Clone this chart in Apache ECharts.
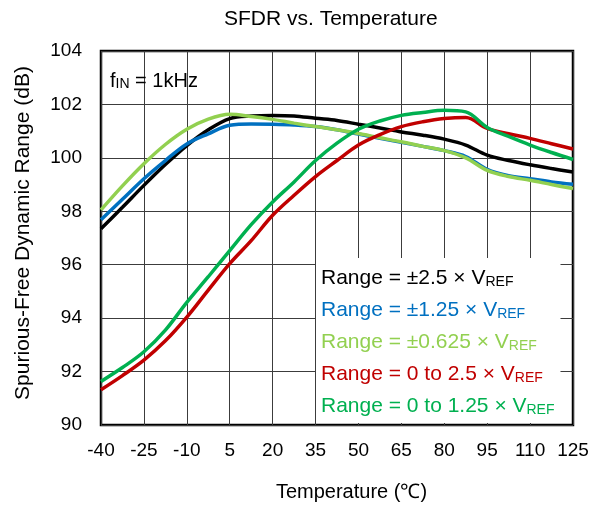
<!DOCTYPE html>
<html>
<head>
<meta charset="utf-8">
<script src="https://cdn.jsdelivr.net/npm/echarts@6/dist/echarts.min.js"></script>
<style>
  html, body { margin: 0; padding: 0; background: #fff; }
  #chart { width: 601px; height: 507px; }
</style>
</head>
<body>
<div id="chart"></div>
<script>
// temperature points (degC)
const temps = [-40, -32.5, -25, -17.5, -10, -2.5, 5, 12.5, 20, 27.5, 35, 42.5, 50, 57.5, 65, 72.5, 80, 87.5, 95, 102.5, 110, 117.5, 125];

// SFDR (dB) per input range
const bip2p5 = [97.35, 98.15, 98.97, 99.75, 100.46, 101.05, 101.47, 101.57, 101.59, 101.57, 101.48, 101.4, 101.26, 101.12, 100.97, 100.85, 100.7, 100.48, 100.1, 99.9, 99.74, 99.6, 99.47];
const bip1p25 = [97.68, 98.45, 99.22, 99.9, 100.52, 100.9, 101.22, 101.27, 101.26, 101.23, 101.17, 101.05, 100.89, 100.73, 100.58, 100.43, 100.27, 100.05, 99.57, 99.33, 99.22, 99.1, 99.01];
const bip0p625 = [98.05, 98.95, 99.78, 100.5, 101.07, 101.45, 101.63, 101.55, 101.44, 101.3, 101.17, 101.05, 100.91, 100.75, 100.6, 100.43, 100.27, 100.0, 99.53, 99.3, 99.16, 99.0, 98.85];
const uni2p5 = [91.32, 91.85, 92.43, 93.15, 94.04, 95.05, 96.04, 96.9, 97.85, 98.6, 99.3, 99.9, 100.48, 100.87, 101.17, 101.35, 101.47, 101.51, 101.1, 100.9, 100.73, 100.53, 100.33];
const uni1p25 = [91.63, 92.15, 92.74, 93.55, 94.59, 95.55, 96.53, 97.5, 98.35, 99.1, 99.9, 100.55, 101.07, 101.38, 101.59, 101.7, 101.78, 101.72, 101.14, 100.8, 100.48, 100.2, 99.94];

const names = ['Range = ±2.5 × V', 'Range = ±1.25 × V', 'Range = ±0.625 × V', 'Range = 0 to 2.5 × V', 'Range = 0 to 1.25 × V'];
const colors = ['#000000', '#0070C0', '#92D050', '#C00000', '#00B050'];
const values = [bip2p5, bip1p25, bip0p625, uni2p5, uni1p25];

const yTicks = { min: 90, max: 104, step: 2 };
const xTicks = { min: -40, max: 125, step: 15 };

const FONT = '"Liberation Sans", Arial, sans-serif';

const chart = echarts.init(document.getElementById('chart'));

const legendRich = {};
colors.forEach((c, i) => {
  legendRich['m' + i] = { color: c, fontSize: 21, lineHeight: 28, verticalAlign: 'bottom', fontFamily: FONT };
  legendRich['s' + i] = { color: c, fontSize: 14, lineHeight: 14, verticalAlign: 'bottom', fontFamily: FONT };
});

const series = names.map((n, i) => ({
  name: n,
  type: 'line',
  smooth: 0.35,
  showSymbol: false,
  data: temps.map((t, k) => [t, values[i][k]]),
  lineStyle: { color: colors[i], width: 3.5 },
  itemStyle: { color: colors[i] },
  emphasis: { disabled: true }
}));

const option = {
  animation: false,
  backgroundColor: '#fff',
  textStyle: { fontFamily: FONT },
  title: [
    {
      text: 'SFDR vs. Temperature',
      left: 224, top: 9, padding: 0,
      textStyle: { fontSize: 21, fontWeight: 'normal', color: '#000', fontFamily: FONT, lineHeight: 21 }
    },
    {
      text: '{f|f}{s|IN}{f| = 1kHz}',
      left: 110, top: 63, padding: 0,
      textStyle: {
        fontWeight: 'normal',
        rich: {
          f: { fontSize: 20, fontWeight: 'normal', lineHeight: 28, verticalAlign: 'bottom', color: '#000', fontFamily: FONT },
          s: { fontSize: 14, fontWeight: 'normal', lineHeight: 14, verticalAlign: 'bottom', color: '#000', fontFamily: FONT }
        }
      }
    }
  ],
  legend: {
    orient: 'vertical',
    left: 316, top: 258,
    padding: [10, 6, 6, 0],
    itemGap: 11,
    itemWidth: 0,
    itemHeight: 10,
    icon: 'none',
    selectedMode: false,
    backgroundColor: '#fff',
    data: names,
    formatter: name => {
      const i = names.indexOf(name);
      return '{m' + i + '|' + name + '}{s' + i + '|REF}';
    },
    textStyle: { rich: legendRich }
  },
  grid: {
    left: 101, top: 51, right: 28, bottom: 78,
    show: true, borderColor: '#000', borderWidth: 2.5,
    containLabel: false
  },
  xAxis: {
    type: 'value',
    min: xTicks.min, max: xTicks.max, interval: xTicks.step,
    name: 'Temperature (℃)',
    nameLocation: 'middle',
    nameGap: 57,
    nameTextStyle: { fontSize: 20, color: '#000', fontFamily: FONT, padding: [0, 0, 0, 29] },
    axisLine: { show: false },
    axisTick: { show: false },
    axisLabel: { fontSize: 19, color: '#000', margin: 16, fontFamily: FONT },
    splitLine: { show: true, lineStyle: { color: '#3c3c3c', width: 1 } }
  },
  yAxis: {
    type: 'value',
    min: yTicks.min, max: yTicks.max, interval: yTicks.step,
    name: 'Spurious-Free Dynamic Range (dB)',
    nameLocation: 'middle',
    nameGap: 67,
    nameTextStyle: { fontSize: 21, color: '#000', fontFamily: FONT, padding: [0, 0, 0, 10] },
    axisLine: { show: false },
    axisTick: { show: false },
    axisLabel: { fontSize: 19, color: '#000', margin: 19, fontFamily: FONT },
    splitLine: { show: true, lineStyle: { color: '#3c3c3c', width: 1 } }
  },
  series: series
};

chart.setOption(option);
</script>
</body>
</html>
